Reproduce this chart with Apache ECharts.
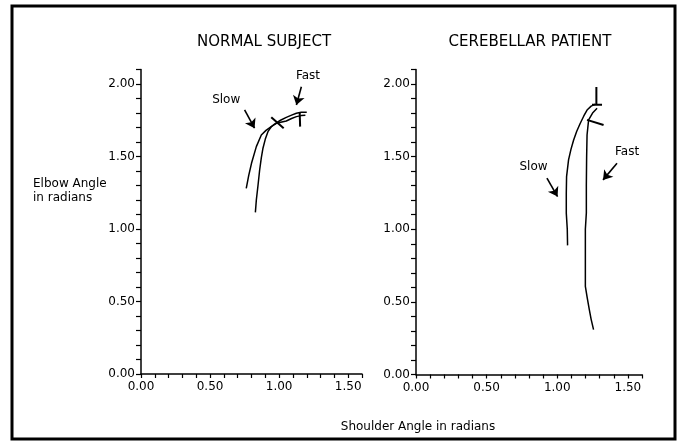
<!DOCTYPE html>
<html>
<head>
<meta charset="utf-8">
<script src="https://cdn.jsdelivr.net/npm/echarts@6/dist/echarts.min.js"></script>
<style>html,body{margin:0;padding:0;background:#fff}#c{width:681px;height:442px}</style>
</head>
<body>
<div id="c"></div>
<script>
// ---- data ----
const xTickLabels = [0, 0.5, 1.0, 1.5];
const yTickLabels = [0, 0.5, 1.0, 1.5, 2.0];

// Normal subject
const normalSlowX = [0.762, 0.780, 0.800, 0.835, 0.871, 0.905, 0.943, 0.980, 1.020, 1.052, 1.090, 1.125, 1.160, 1.190];
const normalSlowY = [1.280, 1.370, 1.453, 1.568, 1.648, 1.680, 1.706, 1.729, 1.738, 1.745, 1.762, 1.775, 1.782, 1.785];
const normalFastX = [0.828, 0.835, 0.847, 0.859, 0.871, 0.883, 0.900, 0.919, 0.943, 0.967, 1.010, 1.052, 1.090, 1.125, 1.160, 1.200];
const normalFastY = [1.115, 1.200, 1.300, 1.407, 1.490, 1.557, 1.620, 1.671, 1.705, 1.724, 1.750, 1.770, 1.785, 1.798, 1.805, 1.805];
const normalSlowMarkX = [0.943, 1.033];
const normalSlowMarkY = [1.770, 1.694];
const normalFastMarkX = [1.149, 1.152];
const normalFastMarkY = [1.802, 1.706];

// Cerebellar patient
const cerebSlowX = [1.073, 1.071, 1.064, 1.064, 1.066, 1.080, 1.097, 1.116, 1.138, 1.163, 1.188, 1.211, 1.240, 1.270];
const cerebSlowY = [0.889, 1.000, 1.111, 1.250, 1.363, 1.478, 1.550, 1.615, 1.675, 1.730, 1.780, 1.821, 1.848, 1.862];
const cerebFastX = [1.257, 1.240, 1.227, 1.212, 1.199, 1.199, 1.199, 1.206, 1.206, 1.208, 1.211, 1.222, 1.250, 1.282];
const cerebFastY = [0.309, 0.380, 0.447, 0.530, 0.607, 0.800, 1.000, 1.113, 1.300, 1.500, 1.649, 1.753, 1.800, 1.833];
const cerebSlowMarkX = [1.277, 1.277];
const cerebSlowMarkY = [1.980, 1.856];
const cerebSlowBarX = [1.246, 1.317];
const cerebSlowBarY = [1.857, 1.857];
const cerebFastMarkX = [1.211, 1.328];
const cerebFastMarkY = [1.753, 1.718];

// annotation arrows [x1,y1,x2,y2] and labels [x,y,text]
const normalArrows = [[0.750, 1.821, 0.822, 1.695], [1.161, 1.981, 1.125, 1.855]];
const normalLabels = [[0.617, 1.890, 'Slow'], [1.209, 2.055, 'Fast']];
const cerebArrows = [[0.927, 1.352, 1.002, 1.225], [1.423, 1.455, 1.324, 1.340]];
const cerebLabels = [[0.832, 1.432, 'Slow'], [1.494, 1.535, 'Fast']];

const titles = ['NORMAL SUBJECT', 'CEREBELLAR PATIENT'];

// ---- build ----
const zip = (xs, ys) => xs.map((x, i) => [x, ys[i]]);
const FONT = 'DejaVu Sans';

function xAx(g) {
  return {
    type: 'value', gridIndex: g, min: 0, max: 1.6, interval: 0.1,
    axisLine: { show: true, onZero: false, lineStyle: { color: '#000', width: 1.5 } },
    axisTick: { show: true, length: 4, lineStyle: { color: '#000', width: 1.2 } },
    axisLabel: { customValues: xTickLabels, formatter: v => v.toFixed(2), color: '#000', fontSize: 12, fontFamily: FONT, margin: 7 },
    splitLine: { show: false }
  };
}
function yAx(g) {
  return {
    type: 'value', gridIndex: g, min: 0, max: 2.1, interval: 0.1,
    axisLine: { show: true, onZero: false, lineStyle: { color: '#000', width: 1.5 } },
    axisTick: { show: true, length: 5, lineStyle: { color: '#000', width: 1.2 } },
    axisLabel: { customValues: yTickLabels, formatter: v => v.toFixed(2), color: '#000', fontSize: 12, fontFamily: FONT, margin: 6 },
    splitLine: { show: false }
  };
}
function curve(g, xs, ys, w) {
  return {
    type: 'line', xAxisIndex: g, yAxisIndex: g, data: zip(xs, ys),
    showSymbol: false, symbol: 'none', silent: true, animation: false,
    lineStyle: { color: '#000', width: w || 1.5 }
  };
}
function arrows(g, arr) {
  return {
    type: 'line', xAxisIndex: g, yAxisIndex: g, data: [], silent: true, animation: false,
    itemStyle: { color: '#000' },
    lineStyle: { color: '#000' },
    markLine: {
      silent: true, animation: false, symbol: ['none', 'arrow'], symbolSize: 9,
      itemStyle: { color: '#000' },
      lineStyle: { color: '#000', width: 1.6, type: 'solid' }, label: { show: false },
      emphasis: { disabled: true },
      data: arr.map(a => [{ coord: [a[0], a[1]] }, { coord: [a[2], a[3]] }])
    }
  };
}
function labels(g, arr) {
  return {
    type: 'scatter', xAxisIndex: g, yAxisIndex: g, symbolSize: 0, silent: true, animation: false,
    itemStyle: { color: '#000', opacity: 1 },
    data: arr.map(a => ({ value: [a[0], a[1]], name: a[2] })),
    label: { show: true, position: 'inside', formatter: p => p.name, color: '#000', fontSize: 12, fontFamily: FONT }
  };
}

const option = {
  backgroundColor: '#fff',
  animation: false,
  grid: [
    { left: 141, top: 69.5, width: 221, height: 304.5 },
    { left: 416, top: 69.5, width: 226, height: 305 }
  ],
  xAxis: [xAx(0), xAx(1)],
  yAxis: [yAx(0), yAx(1)],
  series: [
    curve(0, normalSlowX, normalSlowY),
    curve(0, normalFastX, normalFastY),
    curve(0, normalSlowMarkX, normalSlowMarkY, 2),
    curve(0, normalFastMarkX, normalFastMarkY, 2),
    arrows(0, normalArrows),
    labels(0, normalLabels),
    curve(1, cerebSlowX, cerebSlowY),
    curve(1, cerebFastX, cerebFastY),
    curve(1, cerebSlowMarkX, cerebSlowMarkY, 2),
    curve(1, cerebSlowBarX, cerebSlowBarY, 2),
    curve(1, cerebFastMarkX, cerebFastMarkY, 2),
    arrows(1, cerebArrows),
    labels(1, cerebLabels)
  ],
  graphic: [
    { type: 'rect', shape: { x: 12, y: 6, width: 663, height: 433 }, style: { fill: 'none', stroke: '#000', lineWidth: 3 }, silent: true },
    { type: 'text', x: 264, y: 42, style: { text: titles[0], fill: '#000', font: '15px "DejaVu Sans"', textAlign: 'center', textVerticalAlign: 'middle' } },
    { type: 'text', x: 530, y: 42, style: { text: titles[1], fill: '#000', font: '15px "DejaVu Sans"', textAlign: 'center', textVerticalAlign: 'middle' } },
    { type: 'text', x: 33, y: 184, style: { text: 'Elbow Angle', fill: '#000', font: '12px "DejaVu Sans"', textAlign: 'left', textVerticalAlign: 'middle' } },
    { type: 'text', x: 33, y: 198, style: { text: 'in radians', fill: '#000', font: '12px "DejaVu Sans"', textAlign: 'left', textVerticalAlign: 'middle' } },
    { type: 'text', x: 418, y: 427, style: { text: 'Shoulder Angle in radians', fill: '#000', font: '12px "DejaVu Sans"', textAlign: 'center', textVerticalAlign: 'middle' } }
  ]
};

const chart = echarts.init(document.getElementById('c'), null, { renderer: 'canvas' });
chart.setOption(option);
</script>
</body>
</html>
